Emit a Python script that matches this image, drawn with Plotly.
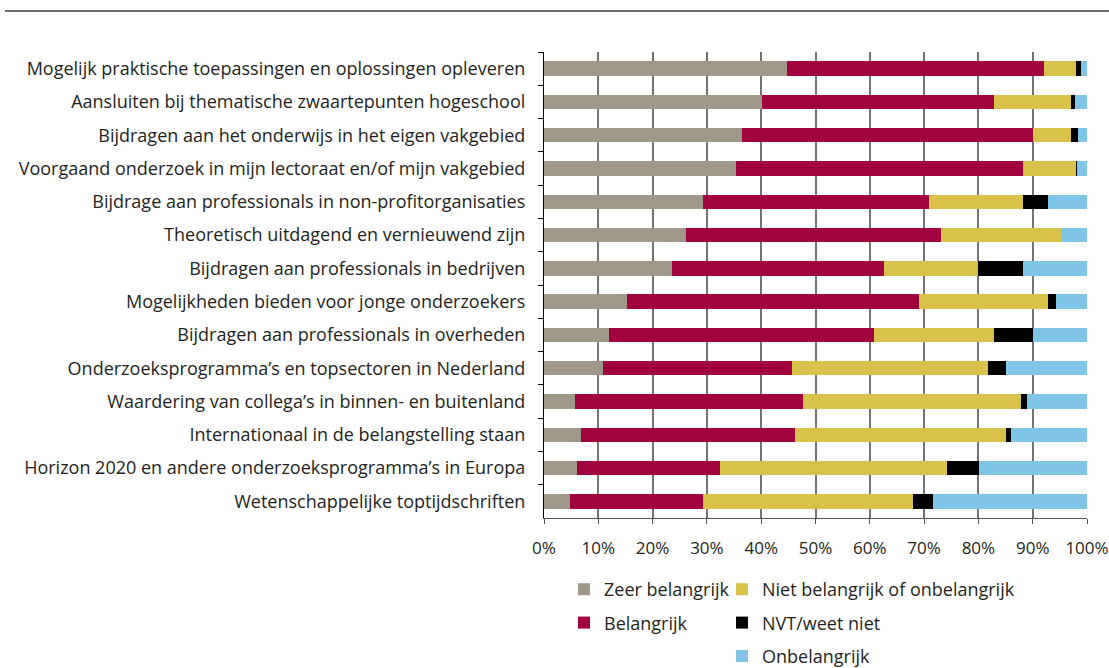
import plotly.graph_objects as go

categories = [
    "Mogelijk praktische toepassingen en oplossingen opleveren",
    "Aansluiten bij thematische zwaartepunten hogeschool",
    "Bijdragen aan het onderwijs in het eigen vakgebied",
    "Voorgaand onderzoek in mijn lectoraat en/of mijn vakgebied",
    "Bijdrage aan professionals in non-profitorganisaties",
    "Theoretisch uitdagend en vernieuwend zijn",
    "Bijdragen aan professionals in bedrijven",
    "Mogelijkheden bieden voor jonge onderzoekers",
    "Bijdragen aan professionals in overheden",
    "Onderzoeksprogramma’s en topsectoren in Nederland",
    "Waardering van collega’s in binnen- en buitenland",
    "Internationaal in de belangstelling staan",
    "Horizon 2020 en andere onderzoeksprogramma’s in Europa",
    "Wetenschappelijke toptijdschriften",
]

zeer_belangrijk = [44.8, 40.1, 36.5, 35.4, 29.3, 26.1, 23.5, 15.2, 11.9, 10.8, 5.8, 6.9, 6.1, 4.8]
belangrijk = [47.3, 42.7, 53.6, 52.9, 41.6, 47.0, 39.1, 53.8, 48.8, 34.8, 41.9, 39.4, 26.4, 24.4]
niet_belangrijk = [5.9, 14.2, 6.9, 9.8, 17.4, 22.3, 17.3, 23.9, 22.1, 36.2, 40.2, 38.7, 41.7, 38.8]
nvt = [0.9, 0.8, 1.3, 0.1, 4.5, 0.0, 8.3, 1.4, 7.2, 3.2, 1.0, 1.0, 6.0, 3.6]
onbelangrijk = [1.1, 2.2, 1.7, 1.8, 7.2, 4.6, 11.8, 5.7, 10.0, 15.0, 11.1, 14.0, 19.8, 28.4]

x_ticks = [0, 10, 20, 30, 40, 50, 60, 70, 80, 90, 100]

series = [
    ("Zeer belangrijk", zeer_belangrijk, "#A09889", "legend"),
    ("Belangrijk", belangrijk, "#A0033E", "legend"),
    ("Niet belangrijk of onbelangrijk", niet_belangrijk, "#D8C24A", "legend2"),
    ("NVT/weet niet", nvt, "#000000", "legend2"),
    ("Onbelangrijk", onbelangrijk, "#7EC5E7", "legend2"),
]

FONT = "'Open Sans', Lato, sans-serif"
TXT = "#231F20"
FS = 18

fig = go.Figure()
for i, (name, vals, color, lg) in enumerate(series):
    fig.add_trace(go.Bar(
        y=categories, x=vals, name=name, orientation="h",
        marker=dict(color=color, line=dict(width=0)),
        legend=lg, legendgroup=name,
    ))

leg_common = dict(
    xanchor="left", yanchor="top",
    xref="container", yref="container",
    orientation="v", traceorder="grouped", tracegroupgap=7,
    font=dict(size=FS, color=TXT), itemwidth=30,
    bgcolor="rgba(0,0,0,0)",
)

fig.update_layout(
    barmode="stack",
    bargap=0.57,
    width=1109, height=668,
    margin=dict(l=544, r=22, t=52, b=150, autoexpand=False),
    plot_bgcolor="white", paper_bgcolor="white",
    font=dict(family=FONT, size=FS, color=TXT),
    showlegend=True,
    legend=dict(x=564 / 1109, y=1 - 571 / 668, **leg_common),
    legend2=dict(x=722 / 1109, y=1 - 571 / 668, **leg_common),
    shapes=[dict(type="line", xref="paper", yref="paper",
                 x0=-539 / 543, x1=1.0405, y0=1 + 41 / 466, y1=1 + 41 / 466,
                 line=dict(color="#3A3A3A", width=1.5))],
)

fig.update_xaxes(
    range=[0, 100], tickvals=x_ticks,
    ticktext=[f"{v}%" for v in x_ticks],
    showgrid=True, gridcolor="#737373", gridwidth=1.5,
    showline=True, linecolor="#555555", linewidth=1.2,
    ticks="outside", ticklen=5, tickcolor="#555555",
    ticklabelstandoff=9, zeroline=False,
    tickfont=dict(size=17, color=TXT),
)
fig.update_yaxes(
    categoryorder="array", categoryarray=categories,
    autorange="reversed",
    showline=True, linecolor="#000000", linewidth=1.2,
    ticks="outside", ticklen=5, tickcolor="#000000", tickson="boundaries",
    ticklabelstandoff=14, showgrid=False,
    tickfont=dict(size=FS, color=TXT),
)

fig.write_html("out.html", config={"displayModeBar": False},
               post_script="document.body.style.margin='0';")
